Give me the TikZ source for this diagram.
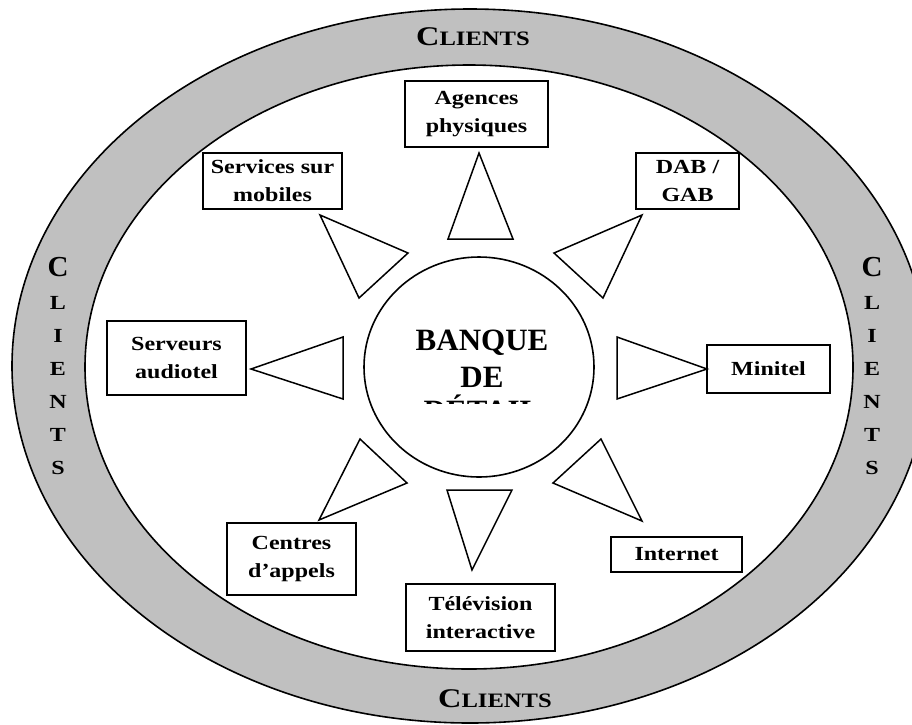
\documentclass[tikz,border=0pt]{standalone}
\usepackage{fontspec}
\usetikzlibrary{shapes.geometric}
\setmainfont{Liberation Serif}
\newfontfamily\widefont{Liberation Serif}[FakeStretch=1.2]
\definecolor{ringgray}{HTML}{C0C0C0}

% label fonts
\newcommand\lblsize{\widefont\bfseries\fontsize{20}{28}\selectfont}
\newcommand\banksize{\bfseries\fontsize{31}{37}\selectfont}
\newcommand\clientsword{{\widefont\bfseries\fontsize{27}{27}\selectfont C}{\widefont\bfseries\fontsize{20.5}{21}\selectfont LIENTS}}

\tikzset{
  ringline/.style={draw=black, line width=1.6pt},
  chan/.style={draw=black, line width=1.5pt, fill=white, align=center,
               inner sep=0pt, font=\lblsize},
  ptr/.style={draw=black, line width=1.5pt, line join=miter},
  bigletter/.style={anchor=base, inner sep=0pt, font=\bfseries\fontsize{29}{29}\selectfont},
  smallletter/.style={anchor=base, inner sep=0pt, font=\widefont\bfseries\fontsize{20}{20}\selectfont},
}

\begin{document}
\begin{tikzpicture}[x=1pt, y=-1pt]
  \useasboundingbox (0,0) rectangle (912,724);
  \fill[white] (0,0) rectangle (912,724);
  \clip (0,0) rectangle (912,724);

  % client ring
  \filldraw[ringline, fill=ringgray] (470,366) ellipse [x radius=458, y radius=357];
  \filldraw[ringline, fill=white] (469,367) ellipse [x radius=384, y radius=302];

  % ring captions
  \node[anchor=base, inner sep=0pt] (clientsTop) at (473,45) {\clientsword};
  \node[anchor=base, inner sep=0pt] (clientsBottom) at (495,707) {\clientsword};
  \node[bigletter] (cl1) at (58,276) {C};
  \node[bigletter] (cr1) at (872,276) {C};
  \foreach \ch [count=\i from 2] in {L,I,E,N,T,S} {
    \node[smallletter] (cl\i) at (58,{276+33*(\i-1)}) {\ch};
    \node[smallletter] (cr\i) at (872,{276+33*(\i-1)}) {\ch};
  }

  % central bank
  \node[ellipse, ringline, minimum width=230pt, minimum height=220pt, inner sep=0pt] (bank) at (479,367) {};
  \begin{scope}
    \clip (380,300) rectangle (580,403);
    \node[anchor=base, inner sep=0pt, font=\banksize] (bankA) at (482,350) {BANQUE};
    \node[anchor=base, inner sep=0pt, font=\banksize] (bankB) at (482,387) {DE};
    \node[anchor=base, inner sep=0pt, font=\banksize] (bankC) at (482,421) {DÉTAIL};
  \end{scope}

  % distribution channels
  \node[chan, minimum width=143, minimum height=66] (agences)  at (476.5,114)   {Agences\\physiques};
  \node[chan, minimum width=139, minimum height=56] (mobiles)  at (272.5,181)   {Services sur\\mobiles};
  \node[chan, minimum width=103, minimum height=56] (dab)      at (687.5,181)   {DAB /\\GAB};
  \node[chan, minimum width=139, minimum height=74] (audiotel) at (176.5,358)   {Serveurs\\audiotel};
  \node[chan, minimum width=123, minimum height=48] (minitel)  at (768.5,369)   {Minitel};
  \node[chan, minimum width=129, minimum height=72] (appels)   at (291.5,559)   {Centres\\d’appels};
  \node[chan, minimum width=131, minimum height=35] (internet) at (676.5,554.5) {Internet};
  \node[chan, minimum width=149, minimum height=67] (tele)     at (480.5,617.5) {Télévision\\interactive};

  % pointers from the bank to each channel
  \draw[ptr] (479,153) -- (448,239) -- (513,239) -- cycle;
  \draw[ptr] (320,215) -- (408,253) -- (359,298) -- cycle;
  \draw[ptr] (642,215) -- (554,253) -- (603,298) -- cycle;
  \draw[ptr] (251,369) -- (343,337) -- (343,399) -- cycle;
  \draw[ptr] (707,369) -- (617,337) -- (617,399) -- cycle;
  \draw[ptr] (319,520) -- (360,439) -- (407,483) -- cycle;
  \draw[ptr] (642,521) -- (601,439) -- (553,483) -- cycle;
  \draw[ptr] (472,570) -- (447,490) -- (512,490) -- cycle;
\end{tikzpicture}
\end{document}
